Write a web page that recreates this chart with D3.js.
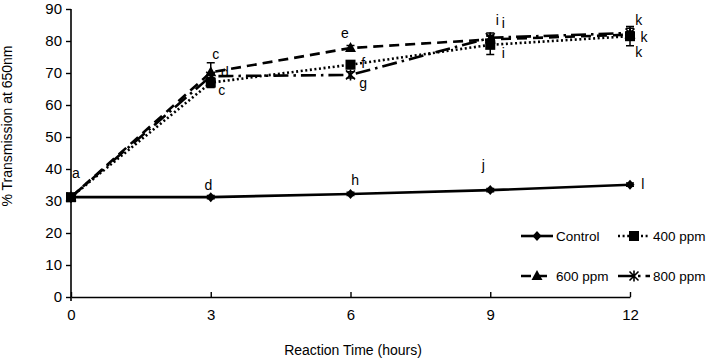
<!DOCTYPE html>
<html>
<head>
<meta charset="utf-8">
<script src="https://cdn.jsdelivr.net/npm/d3@7"></script>
<style>
  body { margin: 0; background: #fff; }
  svg { font-family: "Liberation Sans", Arial, sans-serif; }
</style>
</head>
<body>
<svg id="chart" width="709" height="359"></svg>
<script>
// data
var hours = [0, 3, 6, 9, 12];
var control = [31.2, 31.2, 32.2, 33.4, 35.1];
var ppm400 = [31.2, 67.0, 72.6, 78.8, 81.5];
var ppm600 = [31.2, 70.2, 77.8, 80.5, 82.0];
var ppm800 = [31.2, 69.0, 69.4, 81.0, 82.5];
var err400 = [0.5, 1.5, 1.0, 3.0, 3.0];
var err600 = [0.5, 3.0, 0.8, 1.0, 1.0];
var err800 = [0.5, 1.0, 1.0, 1.5, 1.5];
var errCtl = [0.5, 0.5, 0.5, 0.5, 0.5];
var yTicks = [0, 10, 20, 30, 40, 50, 60, 70, 80, 90];
var xTicks = [0, 3, 6, 9, 12];
var seriesNames = ['Control', '400 ppm', '600 ppm', '800 ppm'];
// significance letters: [hour, value at baseline, letter, anchor]
var letters = [
  [0.02, 37.2, 'a', 'start'],
  [2.95, 33.4, 'd', 'middle'],
  [6.1, 35.0, 'h', 'middle'],
  [8.85, 39.7, 'j', 'middle'],
  [12.24, 33.7, 'l', 'start'],
  [3.03, 74.4, 'c', 'start'],
  [3.22, 68.8, 'd', 'start'],
  [3.16, 63.1, 'c', 'start'],
  [5.88, 80.9, 'e', 'middle'],
  [6.27, 71.6, 'f', 'middle'],
  [6.27, 65.3, 'g', 'middle'],
  [9.15, 85.0, 'i', 'middle'],
  [9.28, 84.0, 'i', 'middle'],
  [9.28, 74.7, 'i', 'middle'],
  [12.19, 85.0, 'k', 'middle'],
  [12.3, 79.7, 'k', 'middle'],
  [12.19, 75.0, 'k', 'middle']
];

var svg = d3.select('#chart');
var x = d3.scaleLinear().domain([0, 12]).range([71, 630]);
var y = d3.scaleLinear().domain([0, 90]).range([297, 9]);

var series = [
  {name: seriesNames[0], vals: control, err: errCtl, dash: null, sym: 'diamond'},
  {name: seriesNames[1], vals: ppm400, err: err400, dash: '2,2.6', sym: 'square'},
  {name: seriesNames[2], vals: ppm600, err: err600, dash: '10,6', sym: 'triangle'},
  {name: seriesNames[3], vals: ppm800, err: err800, dash: '15,5,2.5,5', sym: 'star'}
];

function drawSymbol(g, sym, cx, cy) {
  if (sym === 'diamond') {
    g.append('path').attr('d', 'M' + cx + ',' + (cy - 5) + 'L' + (cx + 4.5) + ',' + cy + 'L' + cx + ',' + (cy + 5) + 'L' + (cx - 4.5) + ',' + cy + 'Z')
      .attr('fill', '#000');
  } else if (sym === 'square') {
    g.append('rect').attr('x', cx - 5).attr('y', cy - 5).attr('width', 10).attr('height', 10).attr('fill', '#000');
  } else if (sym === 'triangle') {
    g.append('path').attr('d', 'M' + cx + ',' + (cy - 6) + 'L' + (cx + 5.5) + ',' + (cy + 4) + 'L' + (cx - 5.5) + ',' + (cy + 4) + 'Z')
      .attr('fill', '#000');
  } else {
    var s = 4.5;
    g.append('path')
      .attr('d', 'M' + (cx - s) + ',' + (cy - s) + 'L' + (cx + s) + ',' + (cy + s) +
        'M' + (cx + s) + ',' + (cy - s) + 'L' + (cx - s) + ',' + (cy + s) +
        'M' + cx + ',' + (cy - s - 1) + 'L' + cx + ',' + (cy + s + 1))
      .attr('stroke', '#000').attr('stroke-width', 1.6);
  }
}

// axes
var yAxis = d3.axisLeft(y).tickValues(yTicks).tickSize(5).tickSizeOuter(0).tickPadding(4);
var gy = svg.append('g').attr('transform', 'translate(71,0)').call(yAxis);
gy.select('.domain').attr('stroke', '#000').attr('stroke-width', 1.6).attr('d', 'M0,' + y(90) + 'V' + (y(0) + 4));
gy.selectAll('.tick line').attr('stroke-width', 1.4);
gy.selectAll('.tick text').attr('font-size', 15).attr('fill', '#000');

var xAxis = d3.axisBottom(x).tickValues(xTicks).tickSize(-5).tickSizeOuter(0).tickPadding(12);
var gx = svg.append('g').attr('transform', 'translate(0,297)').call(xAxis);
gx.select('.domain').attr('stroke', '#000').attr('stroke-width', 1.6);
gx.selectAll('.tick line').attr('stroke-width', 1.4);
gx.selectAll('.tick text').attr('font-size', 15).attr('fill', '#000');

svg.append('text').attr('x', 353).attr('y', 355).attr('text-anchor', 'middle')
  .attr('font-size', 14).text('Reaction Time (hours)');
svg.append('text').attr('transform', 'translate(12,126) rotate(-90)').attr('text-anchor', 'middle')
  .attr('font-size', 14).text('% Transmission at 650nm');

var line = d3.line().x(function (d, i) { return x(hours[i]); }).y(function (d) { return y(d); });

// draw lines (control on top last)
[1, 2, 3, 0].forEach(function (k) {
  var s = series[k];
  var g = svg.append('g');
  g.append('path').attr('d', line(s.vals)).attr('fill', 'none').attr('stroke', '#000')
    .attr('stroke-width', 2.6).attr('stroke-dasharray', s.dash);
  s.vals.forEach(function (v, i) {
    var cx = x(hours[i]);
    var e = s.err[i];
    g.append('path')
      .attr('d', 'M' + cx + ',' + y(v - e) + 'V' + y(v + e) +
        'M' + (cx - 4) + ',' + y(v - e) + 'H' + (cx + 4) +
        'M' + (cx - 4) + ',' + y(v + e) + 'H' + (cx + 4))
      .attr('stroke', '#000').attr('stroke-width', 1.5).attr('fill', 'none');
    drawSymbol(g, s.sym, cx, y(v));
  });
});

// letters
svg.append('g').selectAll('text').data(letters).enter().append('text')
  .attr('x', function (d) { return x(d[0]); })
  .attr('y', function (d) { return y(d[1]); })
  .attr('text-anchor', function (d) { return d[3]; })
  .attr('font-size', 14)
  .text(function (d) { return d[2]; });

// legend
var legendPos = [[521, 236], [618, 236], [521, 276], [618, 276]];
series.forEach(function (s, k) {
  var p = legendPos[k];
  var g = svg.append('g');
  g.append('path').attr('d', 'M' + p[0] + ',' + p[1] + 'H' + (p[0] + 32))
    .attr('stroke', '#000').attr('stroke-width', 2.6).attr('stroke-dasharray', s.dash);
  drawSymbol(g, s.sym, p[0] + 16, p[1]);
  g.append('text').attr('x', p[0] + 35).attr('y', p[1] + 5).attr('font-size', 13.5).text(s.name);
});
</script>
</body>
</html>
